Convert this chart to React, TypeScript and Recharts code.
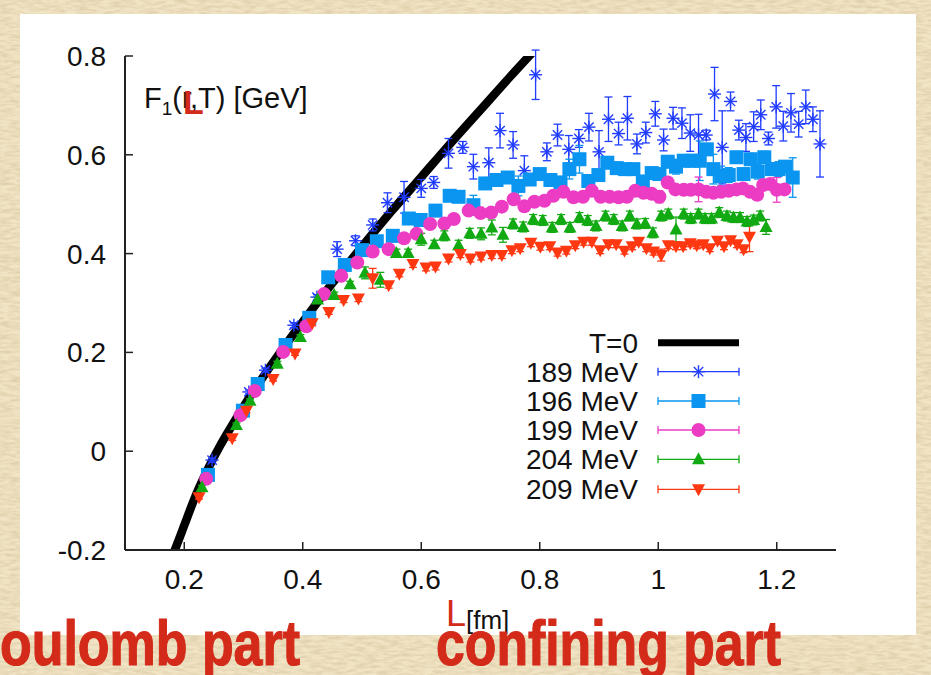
import React from 'react';
import { ComposedChart, Scatter, Line, XAxis, YAxis, ErrorBar } from 'recharts';

// ---------- axis ticks ----------
const xTicks = [0.2, 0.4, 0.6, 0.8, 1, 1.2];
const xTickLabels = ['0.2', '0.4', '0.6', '0.8', '1', '1.2'];
const yTicks = [-0.2, 0, 0.2, 0.4, 0.6, 0.8];
const yTickLabels = ['-0.2', '0', '0.2', '0.4', '0.6', '0.8'];

// ---------- T=0 curve ----------
const t0L = [0.17, 0.18, 0.19, 0.2, 0.22, 0.24, 0.26, 0.28, 0.3, 0.33, 0.36, 0.4, 0.45, 0.5, 0.55, 0.6, 0.65, 0.7, 0.75, 0.8];
const t0V = [-0.25, -0.213, -0.182, -0.15, -0.088, -0.036, 0.01, 0.051, 0.09, 0.145, 0.197, 0.262, 0.34, 0.414, 0.486, 0.555, 0.624, 0.691, 0.758, 0.823];

// ---------- 189 MeV ----------
const l189 = [0.247, 0.309, 0.337, 0.385, 0.424, 0.458, 0.489, 0.518, 0.543, 0.571, 0.600, 0.621, 0.646, 0.670, 0.688, 0.714, 0.733, 0.755, 0.774, 0.793, 0.812, 0.830, 0.849, 0.866, 0.883, 0.900, 0.916, 0.933, 0.948, 0.964, 0.979, 0.995, 1.009, 1.025, 1.040, 1.054, 1.068, 1.081, 1.095, 1.108, 1.122, 1.136, 1.148, 1.161, 1.173, 1.186, 1.199, 1.211, 1.224, 1.237, 1.249, 1.261, 1.273];
const v189 = [-0.018, 0.120, 0.164, 0.255, 0.312, 0.409, 0.426, 0.458, 0.503, 0.514, 0.532, 0.544, 0.603, 0.615, 0.576, 0.584, 0.649, 0.620, 0.568, 0.762, 0.606, 0.640, 0.611, 0.633, 0.656, 0.606, 0.672, 0.643, 0.674, 0.622, 0.645, 0.683, 0.630, 0.674, 0.664, 0.644, 0.640, 0.640, 0.723, 0.615, 0.708, 0.650, 0.635, 0.657, 0.681, 0.633, 0.697, 0.658, 0.685, 0.662, 0.697, 0.672, 0.622];
const e189 = [0.004, 0.004, 0.004, 0.005, 0.005, 0.015, 0.01, 0.012, 0.02, 0.032, 0.018, 0.012, 0.03, 0.012, 0.025, 0.03, 0.035, 0.027, 0.03, 0.05, 0.018, 0.022, 0.028, 0.018, 0.028, 0.043, 0.045, 0.023, 0.044, 0.02, 0.021, 0.025, 0.022, 0.022, 0.031, 0.037, 0.042, 0.01, 0.054, 0.074, 0.019, 0.02, 0.028, 0.03, 0.03, 0.013, 0.043, 0.03, 0.039, 0.026, 0.034, 0.025, 0.067];

// ---------- 196 MeV ----------
const l196 = [0.240, 0.299, 0.324, 0.371, 0.411, 0.443, 0.471, 0.500, 0.525, 0.552, 0.579, 0.599, 0.624, 0.648, 0.663, 0.688, 0.708, 0.727, 0.746, 0.764, 0.783, 0.800, 0.818, 0.835, 0.850, 0.867, 0.882, 0.899, 0.914, 0.930, 0.944, 0.958, 0.974, 0.989, 1.002, 1.016, 1.030, 1.043, 1.057, 1.070, 1.082, 1.093, 1.106, 1.119, 1.132, 1.144, 1.156, 1.168, 1.179, 1.192, 1.203, 1.214, 1.227];
const v196 = [-0.048, 0.082, 0.136, 0.215, 0.270, 0.352, 0.377, 0.407, 0.425, 0.436, 0.471, 0.468, 0.487, 0.517, 0.515, 0.498, 0.542, 0.549, 0.554, 0.537, 0.550, 0.561, 0.549, 0.544, 0.571, 0.591, 0.547, 0.559, 0.584, 0.573, 0.571, 0.571, 0.546, 0.563, 0.561, 0.586, 0.576, 0.588, 0.588, 0.588, 0.611, 0.571, 0.557, 0.559, 0.595, 0.561, 0.591, 0.566, 0.595, 0.571, 0.571, 0.576, 0.554];
const e196 = [0.004, 0.004, 0.004, 0.004, 0.004, 0.005, 0.005, 0.006, 0.006, 0.012, 0.008, 0.008, 0.01, 0.008, 0.008, 0.02, 0.01, 0.008, 0.01, 0.02, 0.01, 0.008, 0.01, 0.012, 0.02, 0.028, 0.012, 0.01, 0.012, 0.012, 0.01, 0.01, 0.012, 0.01, 0.012, 0.012, 0.015, 0.012, 0.012, 0.04, 0.012, 0.03, 0.02, 0.015, 0.012, 0.012, 0.012, 0.015, 0.012, 0.012, 0.015, 0.012, 0.04];

// ---------- 199 MeV ----------
const l199 = [0.237, 0.295, 0.319, 0.367, 0.406, 0.436, 0.465, 0.492, 0.518, 0.545, 0.571, 0.592, 0.615, 0.639, 0.655, 0.680, 0.700, 0.718, 0.736, 0.756, 0.774, 0.791, 0.808, 0.823, 0.840, 0.857, 0.873, 0.888, 0.903, 0.918, 0.933, 0.947, 0.961, 0.975, 0.989, 1.002, 1.016, 1.029, 1.043, 1.055, 1.068, 1.081, 1.093, 1.106, 1.119, 1.132, 1.143, 1.155, 1.167, 1.177, 1.189, 1.200, 1.213];
const v199 = [-0.056, 0.073, 0.122, 0.201, 0.253, 0.318, 0.355, 0.382, 0.404, 0.409, 0.431, 0.440, 0.460, 0.461, 0.470, 0.487, 0.482, 0.483, 0.495, 0.510, 0.496, 0.505, 0.507, 0.517, 0.525, 0.514, 0.515, 0.527, 0.515, 0.515, 0.514, 0.515, 0.527, 0.523, 0.521, 0.515, 0.544, 0.530, 0.529, 0.529, 0.530, 0.525, 0.523, 0.525, 0.527, 0.530, 0.532, 0.525, 0.519, 0.539, 0.541, 0.529, 0.530];
const e199 = [0.004, 0.004, 0.004, 0.004, 0.004, 0.005, 0.005, 0.005, 0.005, 0.005, 0.005, 0.006, 0.006, 0.006, 0.006, 0.008, 0.006, 0.006, 0.006, 0.006, 0.006, 0.006, 0.006, 0.006, 0.006, 0.006, 0.006, 0.006, 0.006, 0.006, 0.006, 0.006, 0.006, 0.006, 0.006, 0.012, 0.008, 0.008, 0.008, 0.008, 0.025, 0.008, 0.008, 0.008, 0.008, 0.008, 0.008, 0.008, 0.008, 0.008, 0.008, 0.025, 0.008];

// ---------- 204 MeV ----------
const l204 = [0.230, 0.288, 0.311, 0.357, 0.396, 0.425, 0.453, 0.480, 0.505, 0.531, 0.558, 0.578, 0.600, 0.622, 0.639, 0.663, 0.682, 0.701, 0.719, 0.738, 0.755, 0.772, 0.789, 0.805, 0.821, 0.836, 0.851, 0.867, 0.881, 0.895, 0.911, 0.925, 0.939, 0.952, 0.964, 0.978, 0.991, 1.005, 1.017, 1.030, 1.043, 1.055, 1.068, 1.079, 1.090, 1.103, 1.116, 1.127, 1.138, 1.150, 1.161, 1.172, 1.182];
const v204 = [-0.073, 0.053, 0.102, 0.177, 0.231, 0.307, 0.316, 0.338, 0.361, 0.347, 0.401, 0.401, 0.429, 0.419, 0.436, 0.417, 0.441, 0.440, 0.453, 0.438, 0.460, 0.454, 0.469, 0.467, 0.453, 0.469, 0.453, 0.473, 0.467, 0.456, 0.476, 0.469, 0.456, 0.476, 0.460, 0.461, 0.442, 0.476, 0.480, 0.449, 0.480, 0.471, 0.480, 0.471, 0.471, 0.483, 0.476, 0.473, 0.473, 0.465, 0.468, 0.476, 0.454];
const e204 = [0.004, 0.004, 0.004, 0.005, 0.005, 0.005, 0.006, 0.006, 0.012, 0.015, 0.008, 0.008, 0.012, 0.008, 0.01, 0.01, 0.01, 0.012, 0.015, 0.015, 0.01, 0.01, 0.01, 0.01, 0.01, 0.01, 0.01, 0.01, 0.01, 0.01, 0.01, 0.01, 0.01, 0.01, 0.01, 0.01, 0.01, 0.01, 0.01, 0.025, 0.01, 0.01, 0.01, 0.01, 0.01, 0.01, 0.01, 0.01, 0.01, 0.01, 0.01, 0.01, 0.015];

// ---------- 209 MeV ----------
const l209 = [0.225, 0.281, 0.305, 0.350, 0.387, 0.416, 0.444, 0.469, 0.494, 0.518, 0.545, 0.563, 0.586, 0.608, 0.624, 0.646, 0.666, 0.683, 0.701, 0.719, 0.736, 0.753, 0.767, 0.785, 0.801, 0.817, 0.830, 0.845, 0.860, 0.874, 0.888, 0.902, 0.916, 0.929, 0.943, 0.956, 0.967, 0.980, 0.992, 1.005, 1.017, 1.030, 1.042, 1.054, 1.065, 1.076, 1.087, 1.100, 1.111, 1.122, 1.133, 1.144, 1.154];
const v209 = [-0.093, 0.026, 0.082, 0.146, 0.198, 0.259, 0.282, 0.306, 0.309, 0.350, 0.336, 0.359, 0.379, 0.372, 0.374, 0.390, 0.399, 0.390, 0.394, 0.397, 0.397, 0.407, 0.411, 0.422, 0.414, 0.415, 0.402, 0.406, 0.417, 0.424, 0.424, 0.407, 0.419, 0.419, 0.406, 0.415, 0.424, 0.411, 0.404, 0.397, 0.417, 0.415, 0.415, 0.421, 0.417, 0.419, 0.411, 0.426, 0.415, 0.427, 0.419, 0.409, 0.434];
const e209 = [0.004, 0.004, 0.004, 0.004, 0.004, 0.005, 0.005, 0.005, 0.006, 0.02, 0.006, 0.006, 0.007, 0.007, 0.007, 0.007, 0.007, 0.007, 0.007, 0.007, 0.007, 0.007, 0.007, 0.008, 0.007, 0.007, 0.007, 0.007, 0.007, 0.007, 0.007, 0.007, 0.007, 0.007, 0.007, 0.007, 0.007, 0.007, 0.007, 0.012, 0.007, 0.007, 0.007, 0.007, 0.007, 0.007, 0.007, 0.007, 0.007, 0.007, 0.007, 0.007, 0.03];

const legendLabels = ['T=0', '189 MeV', '196 MeV', '199 MeV', '204 MeV', '209 MeV'];

// ---------- styling ----------
const FONT = '"Liberation Sans", Arial, Helvetica, sans-serif';
const C189 = '#1f3cff';
const C196 = '#0a96f0';
const C199 = '#ec3cc4';
const C204 = '#12aa12';
const C209 = '#ff3812';
const RED = '#d32a1a';
const AX = '#222';

const mk = (L: number[], V: number[], E?: number[]) =>
  L.map((x, i) => ({ x, y: V[i], e: E ? E[i] : 0 }));

const d0 = mk(t0L, t0V);
const d189 = mk(l189, v189, e189);
const d196 = mk(l196, v196, e196);
const d199 = mk(l199, v199, e199);
const d204 = mk(l204, v204, e204);
const d209 = mk(l209, v209, e209);

// ---------- marker shapes ----------
const StarShape = (p: any) => {
  const { cx, cy } = p;
  const r = 6.5;
  const d = r * 0.72;
  return (
    <g stroke={C189} strokeWidth={1.4}>
      <line x1={cx - r} y1={cy} x2={cx + r} y2={cy} />
      <line x1={cx} y1={cy - r} x2={cx} y2={cy + r} />
      <line x1={cx - d} y1={cy - d} x2={cx + d} y2={cy + d} />
      <line x1={cx - d} y1={cy + d} x2={cx + d} y2={cy - d} />
    </g>
  );
};
const SquareShape = (p: any) => {
  const { cx, cy } = p;
  return <rect x={cx - 7} y={cy - 7} width={14} height={14} fill={C196} />;
};
const CircleShape = (p: any) => {
  const { cx, cy } = p;
  return <circle cx={cx} cy={cy} r={7} fill={C199} />;
};
const TriUpShape = (p: any) => {
  const { cx, cy } = p;
  return <polygon points={`${cx},${cy - 7} ${cx + 6.5},${cy + 5} ${cx - 6.5},${cy + 5}`} fill={C204} />;
};
const TriDownShape = (p: any) => {
  const { cx, cy } = p;
  return <polygon points={`${cx - 6.5},${cy - 5} ${cx + 6.5},${cy - 5} ${cx},${cy + 7}`} fill={C209} />;
};

// ---------- tick renderers ----------
const BottomTick = (p: any) => {
  const { x, y, payload } = p;
  const i = xTicks.indexOf(payload.value);
  return (
    <g>
      <line x1={x} x2={x} y1={y} y2={y - 8} stroke={AX} strokeWidth={1.5} />
      <text x={x} y={y + 39} textAnchor="middle" fontSize={28} fontFamily={FONT} fill="#111">
        {i >= 0 ? xTickLabels[i] : ''}
      </text>
    </g>
  );
};
const TopTick = (p: any) => {
  const { x, y } = p;
  return <line x1={x} x2={x} y1={y} y2={y + 8} stroke={AX} strokeWidth={1.5} />;
};
const LeftTick = (p: any) => {
  const { x, y, payload } = p;
  const i = yTicks.indexOf(payload.value);
  return (
    <g>
      <line x1={x} x2={x + 8} y1={y} y2={y} stroke={AX} strokeWidth={1.5} />
      <text x={x - 19} y={y + 10} textAnchor="end" fontSize={28} fontFamily={FONT} fill="#111">
        {i >= 0 ? yTickLabels[i] : ''}
      </text>
    </g>
  );
};
const RightTick = (p: any) => {
  const { x, y } = p;
  return <line x1={x} x2={x - 8} y1={y} y2={y} stroke={AX} strokeWidth={1.5} />;
};

// ---------- legend ----------
const legendRows = [342.7, 371.7, 401, 430, 459.3, 489.3];
const legendColors = ['#000', C189, C196, C199, C204, C209];
const legendShapes = [null, StarShape, SquareShape, CircleShape, TriUpShape, TriDownShape];

const Legend = () => {
  const x0 = 658;
  const x1 = 739;
  const xm = 698.5;
  return (
    <g>
      {legendLabels.map((lab, i) => {
        const y = legendRows[i];
        const Shape = legendShapes[i] as any;
        return (
          <g key={lab}>
            <text x={638} y={y + 10} textAnchor="end" fontSize={28} fontFamily={FONT} fill="#111">
              {lab}
            </text>
            {i === 0 ? (
              <line x1={x0} x2={x1} y1={y} y2={y} stroke="#000" strokeWidth={7} />
            ) : (
              <g>
                <line x1={x0} x2={x1} y1={y} y2={y} stroke={legendColors[i]} strokeWidth={1.3} />
                <line x1={x0} x2={x0} y1={y - 4} y2={y + 4} stroke={legendColors[i]} strokeWidth={1.3} />
                <line x1={x1} x2={x1} y1={y - 4} y2={y + 4} stroke={legendColors[i]} strokeWidth={1.3} />
                <Shape cx={xm} cy={y} />
              </g>
            )}
          </g>
        );
      })}
    </g>
  );
};

export default function App() {
  return (
    <div
      style={{
        position: 'absolute',
        left: 0,
        top: 0,
        width: 931,
        height: 675,
        overflow: 'hidden',
        background: '#eddcb8',
      }}
    >
      <svg width={931} height={675} style={{ position: 'absolute', left: 0, top: 0 }}>
        <defs>
          <filter id="paper" x="0" y="0" width="100%" height="100%">
            <feTurbulence type="fractalNoise" baseFrequency="0.09 0.35" numOctaves={3} seed={7} />
            <feColorMatrix
              type="matrix"
              values="0 0 0 0 0.62  0 0 0 0 0.5  0 0 0 0 0.3  1.1 0 0 0 -0.38"
            />
          </filter>
        </defs>
        <rect x={0} y={0} width={931} height={675} fill="#f1e4c4" />
        <rect x={0} y={0} width={931} height={675} filter="url(#paper)" />
      </svg>
      <div
        style={{
          position: 'absolute',
          left: 20,
          top: 14,
          width: 896,
          height: 621,
          background: '#ffffff',
        }}
      />
      <div style={{ position: 'absolute', left: 0, top: 0 }}>
        <ComposedChart width={931} height={675} margin={{ top: 56, right: 95, bottom: 85, left: 0 }}>
          <XAxis
            dataKey="x"
            type="number"
            domain={[0.1, 1.3]}
            ticks={xTicks}
            allowDataOverflow
            height={40}
            tickSize={0}
            tickMargin={0}
            tickLine={false}
            axisLine={{ stroke: AX, strokeWidth: 2 }}
            tick={BottomTick}
            interval={0}
          />
          <XAxis
            xAxisId="t"
            orientation="top"
            dataKey="x"
            type="number"
            domain={[0.1, 1.3]}
            ticks={xTicks}
            allowDataOverflow
            height={0}
            tickSize={0}
            tickMargin={0}
            tickLine={false}
            axisLine={{ stroke: AX, strokeWidth: 2 }}
            tick={TopTick}
            interval={0}
          />
          <YAxis
            dataKey="y"
            type="number"
            domain={[-0.2, 0.8]}
            ticks={yTicks}
            allowDataOverflow
            width={125}
            tickSize={0}
            tickMargin={0}
            tickLine={false}
            axisLine={{ stroke: AX, strokeWidth: 2 }}
            tick={LeftTick}
            interval={0}
          />
          <YAxis
            yAxisId="r"
            orientation="right"
            dataKey="y"
            type="number"
            domain={[-0.2, 0.8]}
            ticks={yTicks}
            allowDataOverflow
            width={0}
            tickSize={0}
            tickMargin={0}
            tickLine={false}
            axisLine={{ stroke: AX, strokeWidth: 2 }}
            tick={RightTick}
            interval={0}
          />
          <Line
            data={d0}
            dataKey="y"
            type="monotone"
            stroke="#000"
            strokeWidth={8.5}
            dot={false}
            activeDot={false}
            isAnimationActive={false}
            legendType="none"
          />
          <Scatter data={d189} shape={StarShape} isAnimationActive={false} legendType="none">
            <ErrorBar dataKey="e" direction="y" width={4} stroke={C189} strokeWidth={1.3} isAnimationActive={false} />
          </Scatter>
          <Scatter data={d196} shape={SquareShape} isAnimationActive={false} legendType="none">
            <ErrorBar dataKey="e" direction="y" width={4} stroke={C196} strokeWidth={1.3} isAnimationActive={false} />
          </Scatter>
          <Scatter data={d199} shape={CircleShape} isAnimationActive={false} legendType="none">
            <ErrorBar dataKey="e" direction="y" width={4} stroke={C199} strokeWidth={1.3} isAnimationActive={false} />
          </Scatter>
          <Scatter data={d204} shape={TriUpShape} isAnimationActive={false} legendType="none">
            <ErrorBar dataKey="e" direction="y" width={4} stroke={C204} strokeWidth={1.3} isAnimationActive={false} />
          </Scatter>
          <Scatter data={d209} shape={TriDownShape} isAnimationActive={false} legendType="none">
            <ErrorBar dataKey="e" direction="y" width={4} stroke={C209} strokeWidth={1.3} isAnimationActive={false} />
          </Scatter>
        </ComposedChart>
      </div>
      <svg
        width={931}
        height={675}
        style={{ position: 'absolute', left: 0, top: 0, pointerEvents: 'none' }}
      >
        <Legend />
        {/* y label inside the plot */}
        <text x={144} y={108} fontSize={29} fontFamily={FONT} fill="#111">
          F<tspan fontSize={19} dy={7}>1</tspan>
          <tspan dy={-7}>(r,T) [GeV]</tspan>
        </text>
        <text x={183} y={114} fontSize={34} fontWeight="bold" fontFamily={FONT} fill={RED}>
          L
        </text>
        {/* x label */}
        <text x={466} y={629} fontSize={26} fontFamily={FONT} fill="#111">
          [fm]
        </text>
        <text x={446} y={626} fontSize={36} fontFamily={FONT} fill={RED}>
          L
        </text>
        {/* bottom captions */}
        <text
          x={0}
          y={665}
          fontSize={63}
          fontWeight="bold"
          fontFamily={FONT}
          fill={RED}
          stroke={RED}
          strokeWidth={1.2}
          textLength={300}
          lengthAdjust="spacingAndGlyphs"
        >
          oulomb part
        </text>
        <text
          x={436}
          y={665}
          fontSize={63}
          fontWeight="bold"
          fontFamily={FONT}
          fill={RED}
          stroke={RED}
          strokeWidth={1.2}
          textLength={345}
          lengthAdjust="spacingAndGlyphs"
        >
          confining part
        </text>
      </svg>
    </div>
  );
}
